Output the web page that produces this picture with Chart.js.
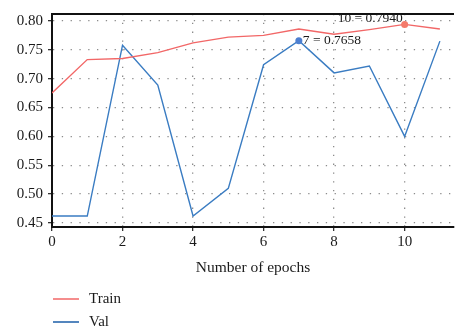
<!DOCTYPE html>
<html>
<head>
<meta charset="utf-8">
<script src="https://cdn.jsdelivr.net/npm/chart.js@4"></script>
<style>
  html, body { margin: 0; padding: 0; background: #fff; }
  #wrap { width: 455px; height: 329px; position: relative; }
</style>
</head>
<body>
<div id="wrap"><canvas id="accChart" width="455" height="329"></canvas></div>
<script>
// Accuracy per epoch
const epochs = [0, 1, 2, 3, 4, 5, 6, 7, 8, 9, 10, 11];
const trainAcc = [0.675, 0.733, 0.735, 0.745, 0.762, 0.772, 0.775, 0.786, 0.777, 0.785, 0.794, 0.786];
const valAcc = [0.462, 0.462, 0.758, 0.689, 0.462, 0.510, 0.724, 0.7658, 0.710, 0.722, 0.600, 0.765];
const xTicks = [0, 2, 4, 6, 8, 10];
const yTicks = [0.45, 0.50, 0.55, 0.60, 0.65, 0.70, 0.75, 0.80];

// highlighted points
const trainBest = 10;
const valBest = 7;

const serif = "'Liberation Serif', 'DejaVu Serif', serif";
const redLine = '#f26767';
const blueLine = '#3a7cc2';

function toPoints(vals) {
    return vals.map((v, i) => ({ x: epochs[i], y: v }));
}

function radiusAt(best) {
    return epochs.map((e, i) => i === best ? 3.5 : 0);
}

// draws the top frame line, the point labels and the legend
const extrasPlugin = {
    id: 'extras',
    afterDraw(chart) {
        const ctx = chart.ctx;
        const area = chart.chartArea;
        const xs = chart.scales.x;
        const ys = chart.scales.y;

        ctx.save();
        ctx.strokeStyle = '#111';
        ctx.lineWidth = 2;
        ctx.beginPath();
        ctx.moveTo(area.left - 1, area.top);
        ctx.lineTo(area.right, area.top);
        ctx.stroke();

        ctx.fillStyle = '#1a1a1a';
        ctx.font = '13.5px ' + serif;
        ctx.textBaseline = 'middle';

        let px = xs.getPixelForValue(epochs[trainBest]);
        let py = ys.getPixelForValue(trainAcc[trainBest]);
        ctx.textAlign = 'right';
        ctx.fillText(epochs[trainBest] + ' = ' + trainAcc[trainBest].toFixed(4), px - 2, py - 6);

        px = xs.getPixelForValue(epochs[valBest]);
        py = ys.getPixelForValue(valAcc[valBest]);
        ctx.textAlign = 'left';
        ctx.fillText(epochs[valBest] + ' = ' + valAcc[valBest].toFixed(4), px + 4, py);

        // legend
        ctx.font = '15px ' + serif;
        const legendColors = [redLine, '#1b5ea9'];
        chart.data.datasets.forEach((ds, i) => {
            const ly = 299 + i * 23;
            ctx.strokeStyle = legendColors[i];
            ctx.lineWidth = 1.5;
            ctx.beginPath();
            ctx.moveTo(53, ly);
            ctx.lineTo(79, ly);
            ctx.stroke();
            ctx.fillStyle = '#1a1a1a';
            ctx.textAlign = 'left';
            ctx.fillText(ds.label, 89, ly);
        });
        ctx.restore();
    }
};

new Chart(document.getElementById('accChart'), {
    type: 'line',
    data: {
        datasets: [{
            label: 'Train',
            data: toPoints(trainAcc),
            borderColor: redLine,
            backgroundColor: '#f47a6a',
            borderWidth: 1.4,
            pointRadius: radiusAt(trainBest),
            pointBorderWidth: 0,
            tension: 0
        }, {
            label: 'Val',
            data: toPoints(valAcc),
            borderColor: blueLine,
            backgroundColor: '#4d7fd0',
            borderWidth: 1.4,
            pointRadius: radiusAt(valBest),
            pointBorderWidth: 0,
            tension: 0
        }]
    },
    options: {
        responsive: false,
        animation: false,
        layout: { padding: { top: 12, right: 1, left: 0, bottom: 52 } },
        plugins: {
            legend: { display: false },
            tooltip: { enabled: false }
        },
        scales: {
            x: {
                type: 'linear',
                min: 0,
                max: 11.4,
                afterFit: (s) => { s.height = 50; },
                afterBuildTicks: (s) => { s.ticks = xTicks.map(v => ({ value: v })); },
                ticks: {
                    color: '#1a1a1a',
                    font: { family: serif, size: 15 },
                    padding: 2,
                    maxRotation: 0
                },
                grid: {
                    color: '#8c8c8c',
                    tickColor: '#333',
                    tickLength: 4,
                    tickBorderDash: [],
                    lineWidth: 1.3
                },
                border: { color: '#111', width: 2, dash: [1.3, 7.5] },
                title: {
                    display: true,
                    text: 'Number of epochs',
                    color: '#1a1a1a',
                    font: { family: serif, size: 15.5 },
                    padding: 0
                }
            },
            y: {
                min: 0.443,
                max: 0.812,
                afterFit: (s) => { s.width = 52; },
                afterBuildTicks: (s) => { s.ticks = yTicks.map(v => ({ value: v })); },
                ticks: {
                    color: '#1a1a1a',
                    font: { family: serif, size: 15 },
                    padding: 5,
                    callback: (v) => v.toFixed(2)
                },
                grid: {
                    color: '#8c8c8c',
                    tickColor: '#333',
                    tickLength: 4,
                    tickBorderDash: [],
                    lineWidth: 1.3
                },
                border: { color: '#111', width: 2, dash: [1.3, 7.5] }
            }
        }
    },
    plugins: [extrasPlugin]
});
</script>
</body>
</html>
